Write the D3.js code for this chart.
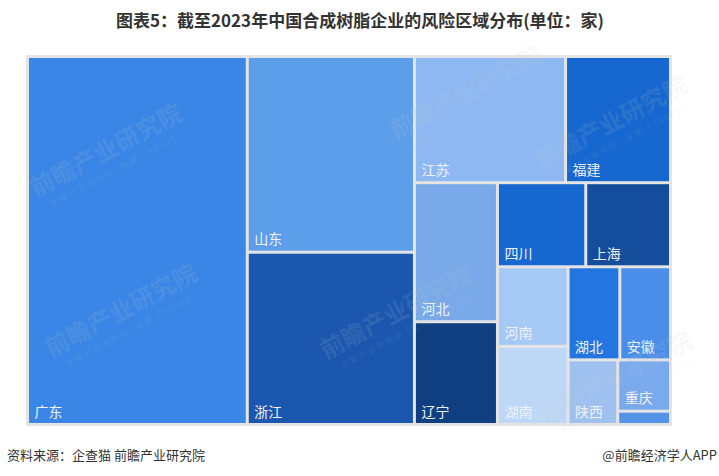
<!DOCTYPE html>
<html>
<head>
<meta charset="utf-8">
<script src="https://cdn.jsdelivr.net/npm/d3@7/dist/d3.min.js"></script>
<style>
  html, body { margin: 0; padding: 0; background: #fff; }
  svg { display: block; }
</style>
</head>
<body>
<svg id="chart" width="719" height="476"></svg>
<script>
// ---- data ----
const regions = ["广东","山东","浙江","江苏","福建","河北","辽宁","四川","上海","河南","湖南","湖北","安徽","陕西","重庆","其他"];
const counts  = [806, 326, 287, 190, 132, 115, 85, 74, 71, 56, 55, 48, 47, 32, 27, 7];
const colors  = ["#3a86e6","#5d9eeb","#1b57ae","#8eb8f2","#1667cf","#79a9e9","#0f3f80","#1667cf","#134d9b","#a6c8f4","#bdd7f7","#2375df","#4a8ee9","#9ec1f0","#7aaaee","#5593e8"];
const titleText = "图表5：截至2023年中国合成树脂企业的风险区域分布(单位：家)";
const sourceText = "资料来源：企查猫 前瞻产业研究院";
const brandText = "@前瞻经济学人APP";

const svg = d3.select("#chart");
const X0 = 27.5, Y0 = 56.5, TW = 643, TH = 368;

// title
svg.append("text")
  .attr("x", 360).attr("y", 27)
  .attr("text-anchor", "middle")
  .attr("font-family", "'Noto Sans CJK SC', sans-serif")
  .attr("font-weight", "bold")
  .attr("font-size", 17)
  .attr("fill", "#333")
  .text(titleText);

// frame background
svg.append("rect")
  .attr("x", X0 - 1.5).attr("y", Y0 - 1.5)
  .attr("width", TW + 3).attr("height", TH + 3)
  .attr("fill", "#e4e4e4");

const root = d3.hierarchy({children: regions.map((r, i) => ({name: r, value: counts[i], color: colors[i]}))})
  .sum(d => d.value || 0)
  .sort((a, b) => b.value - a.value);

d3.treemap()
  .tile(d3.treemapSquarify.ratio(1))
  .size([TW, TH])
  (root);

const g = svg.append("g").attr("transform", `translate(${X0},${Y0})`);
const cell = g.selectAll("g.cell").data(root.leaves()).join("g").attr("class", "cell");

cell.append("rect")
  .attr("x", d => d.x0 + 1.5)
  .attr("y", d => d.y0 + 1.5)
  .attr("width", d => Math.max(0, d.x1 - d.x0 - 3))
  .attr("height", d => Math.max(0, d.y1 - d.y0 - 3))
  .attr("fill", d => d.data.color);

cell.filter(d => d.y1 - d.y0 > 20)
  .append("text")
  .attr("x", d => d.x0 + 7)
  .attr("y", d => d.y1 - 8)
  .attr("font-family", "'Noto Sans CJK SC', sans-serif")
  .attr("font-size", 14)
  .attr("fill", "#eef2f8")
  .text(d => d.data.name);

// watermarks
const marks = [[110, 158], [470, 100], [615, 130], [125, 318], [400, 320], [620, 385]];
const wm = svg.append("g").attr("pointer-events", "none");
marks.forEach(([x, y]) => {
  const m = wm.append("g").attr("transform", `translate(${x},${y}) rotate(-28)`);
  m.append("text")
    .attr("text-anchor", "middle")
    .attr("font-family", "'Noto Sans CJK SC', sans-serif")
    .attr("font-weight", "bold")
    .attr("font-size", 24)
    .attr("fill", "rgba(200,200,200,0.14)")
    .text("前瞻产业研究院");
  m.append("text")
    .attr("y", 16)
    .attr("text-anchor", "middle")
    .attr("font-family", "'Noto Sans CJK SC', sans-serif")
    .attr("font-size", 8)
    .attr("letter-spacing", 2)
    .attr("fill", "rgba(200,200,200,0.14)")
    .text("前瞻产业研究院 (股票:839599)");
});

// footer
svg.append("text")
  .attr("x", 7).attr("y", 460)
  .attr("font-family", "'Noto Sans CJK SC', sans-serif")
  .attr("font-size", 13)
  .attr("fill", "#333")
  .text(sourceText);

svg.append("text")
  .attr("x", 717).attr("y", 460)
  .attr("text-anchor", "end")
  .attr("font-family", "'Noto Sans CJK SC', sans-serif")
  .attr("font-size", 13)
  .attr("fill", "#333")
  .text(brandText);
</script>
</body>
</html>
